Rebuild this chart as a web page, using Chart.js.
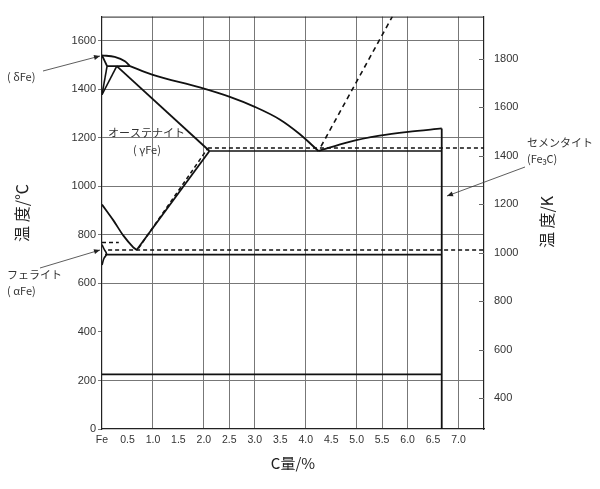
<!DOCTYPE html>
<html><head><meta charset="utf-8">
<script src="https://cdn.jsdelivr.net/npm/chart.js@4"></script>
<style>html,body{margin:0;padding:0;background:#fff}#wrap{width:600px;height:489px;position:relative}</style>
</head><body><div id="wrap"><canvas id="c"></canvas></div>
<script>
// ---- tick labels / grid values ----
const xTickLabels = ['Fe','0.5','1.0','1.5','2.0','2.5','3.0','3.5','4.0','4.5','5.0','5.5','6.0','6.5','7.0',''];
const xGridValues = [1.0, 2.0, 2.5, 3.0, 4.0, 5.0, 5.5, 6.0, 7.0];
const yGridValues = [200, 600, 800, 1000, 1200, 1400, 1600];
const kelvinTicks = [400, 600, 800, 1000, 1200, 1400, 1600, 1800];

// ---- solid phase lines: [C %, T °C] ----
const deltaLiquidus = [[0,1540],[0.25,1534],[0.45,1516],[0.55,1496]];
const liquidus = [[0.55,1496],[1.0,1460],[1.92,1408],[2.51,1369],[3.0,1328],[3.49,1276],[3.88,1216],[4.25,1146]];
const deltaSolidus = [[0,1540],[0.10,1496]];
const peritectic = [[0.10,1496],[0.55,1496]];
const deltaLower = [[0.10,1496],[0,1378]];
const gammaUpper = [[0.29,1496],[0,1378]];
const solidus = [[0.29,1496],[2.11,1146]];
const eutectic = [[2.11,1146],[6.67,1146]];
const cementiteLiquidus = [[4.25,1146],[4.84,1183],[5.45,1209],[6.01,1225],[6.67,1239]];
const cementite = [[6.67,1239],[6.67,0]];
const acm = [[0.68,738],[2.11,1146]];
const a3 = [[0,925],[0.22,861],[0.42,797],[0.61,750],[0.68,738]];
const a1 = [[0.06,719],[6.67,719]];
const a0 = [[0,225],[6.67,225]];
const ferriteEdge = [[0,760],[0.04,742],[0.09,721],[0.04,704],[0,676]];

// ---- dashed (graphite / magnetic) lines ----
const graphiteLiquidus = [[4.30,1165],[5.70,1700]];
const graphiteEutectic = [[2.08,1158],[7.5,1158]];
const graphiteAcm = [[0.72,746],[2.08,1158]];
const graphiteEutectoid = [[0.12,738],[7.5,738]];
const a2 = [[0,769],[0.33,769]];

const pts = a => a.map(p => ({x:p[0], y:p[1]}));
const solid = (d, w, curve) => ({data: pts(d), showLine:true, pointRadius:0, borderColor:'#111', borderWidth:w||1.8,
  cubicInterpolationMode: curve ? 'monotone' : 'default', tension: curve ? 0.4 : 0, fill:false});
const dashed = (d, dash, w) => ({data: pts(d), showLine:true, pointRadius:0, borderColor:'#111', borderWidth:w||1.5, borderDash:dash||[4,3], fill:false});

const datasets = [
  solid(deltaLiquidus,1.8,true), solid(liquidus,1.8,true), solid(deltaSolidus), solid(peritectic),
  solid(deltaLower,1.6), solid(gammaUpper,1.6), solid(solidus), solid(eutectic,1.6),
  solid(cementiteLiquidus,1.8,true), solid(cementite,1.8), solid(acm), solid(a3,1.8,true),
  solid(a1,1.6), solid(a0,1.6), { ...solid(ferriteEdge,1.6), tension: 0.4 },
  dashed(graphiteLiquidus,[5,4],1.6), dashed(graphiteEutectic), dashed(graphiteAcm),
  dashed(graphiteEutectoid), dashed(a2)
];

const near = (v, list) => list.some(g => Math.abs(g - v) < 1e-6);
const TXT = '#333';
const jp = '"Noto Sans CJK JP", "Noto Sans", sans-serif';

function arrow(ctx, x1, y1, x2, y2) {
  ctx.save();
  ctx.strokeStyle = '#333'; ctx.fillStyle = '#222'; ctx.lineWidth = 0.8;
  ctx.beginPath(); ctx.moveTo(x1, y1); ctx.lineTo(x2, y2); ctx.stroke();
  const a = Math.atan2(y2 - y1, x2 - x1), L = 6, W = 2.5;
  ctx.beginPath();
  ctx.moveTo(x2, y2);
  ctx.lineTo(x2 - L*Math.cos(a) + W*Math.sin(a), y2 - L*Math.sin(a) - W*Math.cos(a));
  ctx.lineTo(x2 - L*Math.cos(a) - W*Math.sin(a), y2 - L*Math.sin(a) + W*Math.cos(a));
  ctx.closePath(); ctx.fill();
  ctx.restore();
}

const decor = {
  id: 'decor',
  afterDraw(chart) {
    const ctx = chart.ctx, ca = chart.chartArea;
    ctx.save();
    // top border
    ctx.strokeStyle = '#222'; ctx.lineWidth = 1;
    ctx.beginPath(); ctx.moveTo(ca.left, ca.top + 0.5); ctx.lineTo(ca.right, ca.top + 0.5); ctx.stroke();
    // inward ticks on right (K) axis
    const y2 = chart.scales.y2;
    ctx.strokeStyle = '#666';
    y2.ticks.forEach(t => {
      const py = Math.round(y2.getPixelForValue(t.value)) + 0.5;
      ctx.beginPath(); ctx.moveTo(ca.right - 5, py); ctx.lineTo(ca.right, py); ctx.stroke();
    });
    // axis titles
    ctx.fillStyle = '#222';
    ctx.font = '16px ' + jp;
    ctx.textAlign = 'center'; ctx.textBaseline = 'middle';
    ctx.save(); ctx.translate(22, 213); ctx.rotate(-Math.PI/2); ctx.fillText('温 度/℃', 0, 0); ctx.restore();
    ctx.save(); ctx.translate(547, 222); ctx.rotate(-Math.PI/2); ctx.fillText('温 度/K', 0, 0); ctx.restore();
    ctx.font = '15px ' + jp;
    ctx.fillText('C量/%', (ca.left + ca.right)/2, 463);
    // annotations
    ctx.fillStyle = TXT;
    ctx.font = '11px ' + jp;
    ctx.textAlign = 'left';
    ctx.fillText('( δFe)', 7, 77);
    ctx.fillText('オーステナイト', 108, 133);
    ctx.textAlign = 'center';
    ctx.fillText('( γFe)', 147, 150);
    ctx.textAlign = 'left';
    ctx.fillText('フェライト', 7, 275);
    ctx.fillText('( αFe)', 7, 291);
    ctx.fillText('セメンタイト', 527, 143);
    ctx.fillText('(Fe₃C)', 527, 159);
    arrow(ctx, 43, 71, 100, 56);
    arrow(ctx, 40, 268, 100, 250);
    arrow(ctx, 525, 167, 447, 196);
    ctx.restore();
  }
};

new Chart(document.getElementById('c'), {
  type: 'scatter',
  data: { datasets },
  plugins: [decor],
  options: {
    responsive: true, maintainAspectRatio: false, animation: false, devicePixelRatio: 1,
    layout: { padding: { top: 3, left: 0, right: 0, bottom: 0 } },
    plugins: { legend: { display: false }, tooltip: { enabled: false } },
    scales: {
      x: {
        type: 'linear', min: 0, max: 7.5,
        ticks: { stepSize: 0.5, autoSkip: false, maxRotation: 0, padding: 5, color: TXT,
                 font: { family: 'Liberation Sans', size: 10.5 },
                 callback: (v, i) => xTickLabels[i] ?? '' },
        grid: { color: c => (c.tick && near(c.tick.value, xGridValues)) ? '#777' : 'rgba(0,0,0,0)', drawTicks: false },
        border: { color: '#222', width: 1.2 },
        afterFit: s => { s.height = 60; }
      },
      y: {
        type: 'linear', position: 'left', min: 0, max: 1700,
        ticks: { stepSize: 200, padding: 2, color: TXT, font: { family: 'Liberation Sans', size: 11 },
                 callback: v => String(v) },
        grid: { color: c => (c.tick && near(c.tick.value, yGridValues)) ? '#777' : 'rgba(0,0,0,0)',
                tickLength: 4, tickColor: '#777' },
        border: { color: '#222', width: 1.2 },
        afterBuildTicks: s => { s.ticks = s.ticks.filter(t => t.value <= 1600); },
        afterFit: s => { s.width = 102; }
      },
      y2: {
        type: 'linear', position: 'right', min: 273, max: 1973,
        ticks: { padding: 10, color: TXT, font: { family: 'Liberation Sans', size: 11 },
                 callback: v => String(v) },
        grid: { display: false, drawOnChartArea: false, drawTicks: false },
        border: { display: true, color: '#222', width: 1.2 },
        afterBuildTicks: s => { s.ticks = kelvinTicks.map(v => ({ value: v })); },
        afterFit: s => { s.width = 116; }
      }
    }
  }
});
</script></body></html>
